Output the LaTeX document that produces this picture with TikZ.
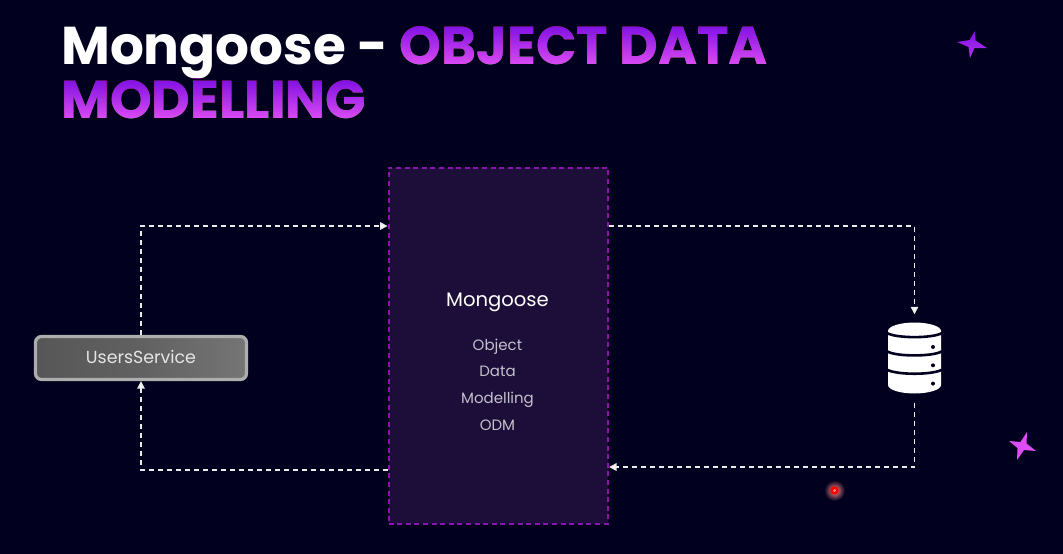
\documentclass[tikz,border=0pt]{standalone}
\usepackage{fontspec}
\setmainfont{Poppins}
\usetikzlibrary{arrows.meta,calc}
\definecolor{bg}{HTML}{02001F}
\definecolor{boxfill}{HTML}{1C0E38}
\definecolor{boxline}{HTML}{8A12B0}
\definecolor{gradtop}{HTML}{7F10E2}
\definecolor{gradbot}{HTML}{DD4CF4}
\definecolor{gradmid}{HTML}{B431ED}
\definecolor{softtext}{HTML}{C4C0CC}
\newcommand{\ttlfont}{\fontsize{53.2}{53.2}\selectfont\bfseries}
\tikzset{
  titletext/.style={inner sep=0pt,anchor=base west,font=\ttlfont},
  flow/.style={draw=white!92!black,line width=1.4pt,dash pattern=on 5pt off 4pt,-{Triangle[length=7.5pt,width=7.5pt,fill=white]}},
  sublabel/.style={text=softtext,font=\fontsize{15}{17}\selectfont,inner sep=0pt,anchor=base},
  sparkle/.style={draw=none},
}
\begin{document}
\begin{tikzpicture}[x=1pt,y=-1pt]
\useasboundingbox (0,0) rectangle (1063,554);
\fill[bg] (0,0) rectangle (1063,554);
% title
\node[titletext,text=white] (t1) at (61,64) {Mongoose -};
\node[titletext,text=white] (t2) at (399.5,64) {OBJECT DATA};
\node[titletext,text=white] (t3) at (61,118) {MODELLING};
\begin{scope}[blend mode=darken]
\shade[top color=gradtop,bottom color=gradbot,shading angle=0] (t2.south west) ++(-3,1) rectangle ($(t2.north east)+(3,-1)$);
\shade[top color=gradtop,bottom color=gradbot,shading angle=0] (t3.south west) ++(-3,1) rectangle ($(t3.north east)+(3,-1)$);
\end{scope}
% main box
\node[draw=boxline,fill=boxfill,line width=1.9pt,dash pattern=on 5pt off 3.6pt,minimum width=219.5pt,minimum height=356pt,inner sep=0pt,anchor=north west] (box) at (387.6,166.6) {};
\node[text=white,font=\fontsize{19.6}{22}\selectfont,inner sep=0pt,anchor=base] (mg) at (497.5,306.5) {Mongoose};
\node[sublabel] (l1) at (497.5,350) {Object};
\node[sublabel] (l2) at (497.5,376) {Data};
\node[sublabel] (l3) at (497.5,403) {Modelling};
\node[sublabel] (l4) at (497.5,430) {ODM};
% users service
\node[draw=white!68!black,rounded corners=6pt,line width=3.2pt,left color=black!66,right color=black!54,middle color=black!62,minimum width=211pt,minimum height=43pt,inner sep=0pt,anchor=center] (users) at (141,358) {};
\node[text=white!90!black,font=\fontsize{17.4}{20}\selectfont,inner sep=0pt] (userslabel) at (141,357) {UsersService};
% database
\node[minimum width=53pt,minimum height=71pt,inner sep=0pt] (db) at (914.5,358) {};
\fill[white] (888,331) .. controls (888,326) and (901,322.5) .. (914.5,322.5) .. controls (928,322.5) and (941,326) .. (941,331) -- (941,385) .. controls (941,390) and (928,393.5) .. (914.5,393.5) .. controls (901,393.5) and (888,390) .. (888,385) -- cycle;
\foreach \yy in {0,18.3,36.6}{
  \draw[bg,line width=2.6pt] ($(887,333)+(0,\yy)$) .. controls ($(896,338.5)+(0,\yy)$) and ($(933,338.5)+(0,\yy)$) .. ($(942,333)+(0,\yy)$);
  \fill[bg] ($(933,347)+(0,\yy)$) circle (2pt);
}
% connectors
\coordinate (inA) at (box.west |- 0,226);
\coordinate (outA) at (box.east |- 0,226);
\coordinate (inB) at (box.east |- 0,467);
\coordinate (outB) at (box.west |- 0,470);
\draw[flow] (users.north) |- (inA);
\draw[flow,shorten >=8pt] (outA) -| (db.north);
\draw[flow,shorten <=9pt] (db.south) |- (inB);
\draw[flow] (outB) -| (users.south);
% sparkles
\shade[sparkle,top color=gradtop,bottom color=gradmid] (975,31) -- (975.5,40.5) -- (987,48) -- (974.5,48) -- (970,58) -- (968.5,47) -- (957,42) -- (969.5,40) -- cycle;
\fill[sparkle,fill=gradbot] (1027,432) -- (1026.5,443.5) -- (1036,451) -- (1024,450) -- (1017,460) -- (1017.5,448) -- (1009,441) -- (1020.5,442) -- cycle;
% pointer
\shade[inner color=red!45!white,outer color=bg] (834.5,490.5) circle (10.5pt);
\fill[red] (834.5,490.5) circle (4.2pt);
\fill[red!45!white] (834.5,490.5) circle (1.5pt);
\end{tikzpicture}
\end{document}
